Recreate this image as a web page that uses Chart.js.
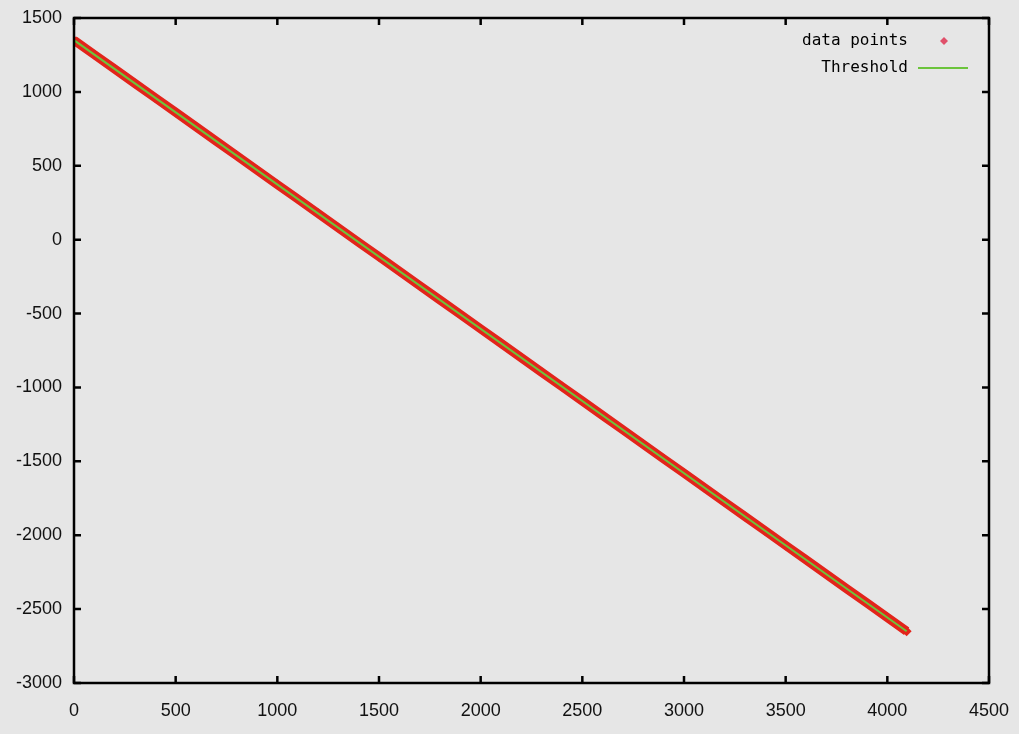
<!DOCTYPE html>
<html>
<head>
<meta charset="utf-8">
<script src="https://cdn.jsdelivr.net/npm/chart.js@4.4.1/dist/chart.umd.min.js"></script>
<style>
  html, body { margin: 0; padding: 0; background: #e6e6e6; }
  canvas { display: block; }
</style>
</head>
<body>
<canvas id="chart" width="1019" height="734"></canvas>
<script>
// valeurs
const xValues = [0, 100, 200, 300, 400, 500, 600, 700, 800, 900,
  1000, 1100, 1200, 1300, 1400, 1500, 1600, 1700, 1800, 1900,
  2000, 2100, 2200, 2300, 2400, 2500, 2600, 2700, 2800, 2900,
  3000, 3100, 3200, 3300, 3400, 3500, 3600, 3700, 3800, 3900,
  4000, 4095];
const yValues = [1350, 1252, 1155, 1057, 959, 862, 764, 666, 569, 471,
  373, 276, 178, 80, -18, -115, -213, -311, -408, -506,
  -604, -701, -799, -897, -994, -1092, -1190, -1287, -1385, -1483,
  -1580, -1678, -1776, -1873, -1971, -2069, -2166, -2264, -2362, -2459,
  -2557, -2650];
const thresholdX = [0, 4095];
const thresholdY = [1350, -2650];
const xTicks = [0, 500, 1000, 1500, 2000, 2500, 3000, 3500, 4000, 4500];
const yTicks = [-3000, -2500, -2000, -1500, -1000, -500, 0, 500, 1000, 1500];

const RED = '#e3241b';
const GREEN = '#6cc43c';
const TICK_FONT = { family: '"Liberation Sans", Arial, sans-serif', size: 18 };

// fond gris
const bgPlugin = {
  id: 'bg',
  beforeDraw(chart) {
    const ctx = chart.ctx;
    ctx.save();
    ctx.fillStyle = '#e6e6e6';
    ctx.fillRect(0, 0, chart.width, chart.height);
    ctx.restore();
  },
};

// cadre + graduations vers l'intérieur (style gnuplot)
const framePlugin = {
  id: 'frame',
  afterDatasetsDraw(chart) {
    const { ctx, chartArea: a, scales } = chart;
    const len = 7;
    ctx.save();
    ctx.strokeStyle = '#000';
    ctx.lineWidth = 2.5;
    ctx.strokeRect(a.left, a.top, a.right - a.left, a.bottom - a.top);
    ctx.beginPath();
    xTicks.forEach(v => {
      const px = scales.x.getPixelForValue(v);
      ctx.moveTo(px, a.bottom); ctx.lineTo(px, a.bottom - len);
      ctx.moveTo(px, a.top); ctx.lineTo(px, a.top + len);
    });
    yTicks.forEach(v => {
      const py = scales.y.getPixelForValue(v);
      ctx.moveTo(a.left, py); ctx.lineTo(a.left + len, py);
      ctx.moveTo(a.right, py); ctx.lineTo(a.right - len, py);
    });
    ctx.stroke();
    ctx.restore();
  },
};

// légende dans le cadre, texte à gauche du symbole
const keyPlugin = {
  id: 'key',
  afterDraw(chart) {
    const ctx = chart.ctx;
    const ds = chart.data.datasets;
    ctx.save();
    ctx.font = '16px "DejaVu Sans Mono", monospace';
    ctx.fillStyle = '#000';
    ctx.textAlign = 'right';
    ctx.textBaseline = 'middle';
    ctx.fillText(ds[0].label, 908, 41);
    ctx.fillText(ds[1].label, 908, 68);
    // symbole losange
    ctx.fillStyle = '#e0506a';
    ctx.beginPath();
    ctx.moveTo(944, 37); ctx.lineTo(948, 41); ctx.lineTo(944, 45); ctx.lineTo(940, 41);
    ctx.closePath();
    ctx.fill();
    // trait vert
    ctx.strokeStyle = GREEN;
    ctx.lineWidth = 2;
    ctx.beginPath();
    ctx.moveTo(918, 68); ctx.lineTo(968, 68);
    ctx.stroke();
    ctx.restore();
  },
};

new Chart(document.getElementById('chart'), {
  type: 'scatter',
  data: {
    datasets: [
      {
        label: 'data points',
        data: xValues.map((x, i) => ({ x, y: yValues[i] })),
        showLine: true,
        borderColor: RED,
        borderWidth: 9,
        backgroundColor: RED,
        pointStyle: 'rectRot',
        pointRadius: 5,
        pointBorderWidth: 0,
        order: 2,
      },
      {
        label: 'Threshold',
        data: thresholdX.map((x, i) => ({ x, y: thresholdY[i] })),
        showLine: true,
        borderColor: GREEN,
        borderWidth: 2,
        pointRadius: 0,
        order: 1,
      },
    ],
  },
  options: {
    responsive: false,
    animation: false,
    layout: { padding: { top: 18, right: 30, left: 0, bottom: 0 } },
    plugins: { legend: { display: false }, tooltip: { enabled: false } },
    scales: {
      x: {
        type: 'linear',
        min: 0, max: 4500,
        grid: { display: false, drawTicks: false },
        border: { display: false },
        afterBuildTicks: s => { s.ticks = xTicks.map(v => ({ value: v })); },
        afterFit: s => { s.height = 51; s.paddingLeft = 0; s.paddingRight = 0; },
        ticks: { color: '#111', font: TICK_FONT, padding: 17, maxRotation: 0, callback: v => String(v) },
      },
      y: {
        type: 'linear',
        min: -3000, max: 1500,
        grid: { display: false, drawTicks: false },
        border: { display: false },
        afterBuildTicks: s => { s.ticks = yTicks.map(v => ({ value: v })); },
        afterFit: s => { s.width = 74; s.paddingTop = 0; s.paddingBottom = 0; },
        ticks: { color: '#111', font: TICK_FONT, padding: 12, callback: v => String(v) },
      },
    },
  },
  plugins: [bgPlugin, framePlugin, keyPlugin],
});
</script>
</body>
</html>
